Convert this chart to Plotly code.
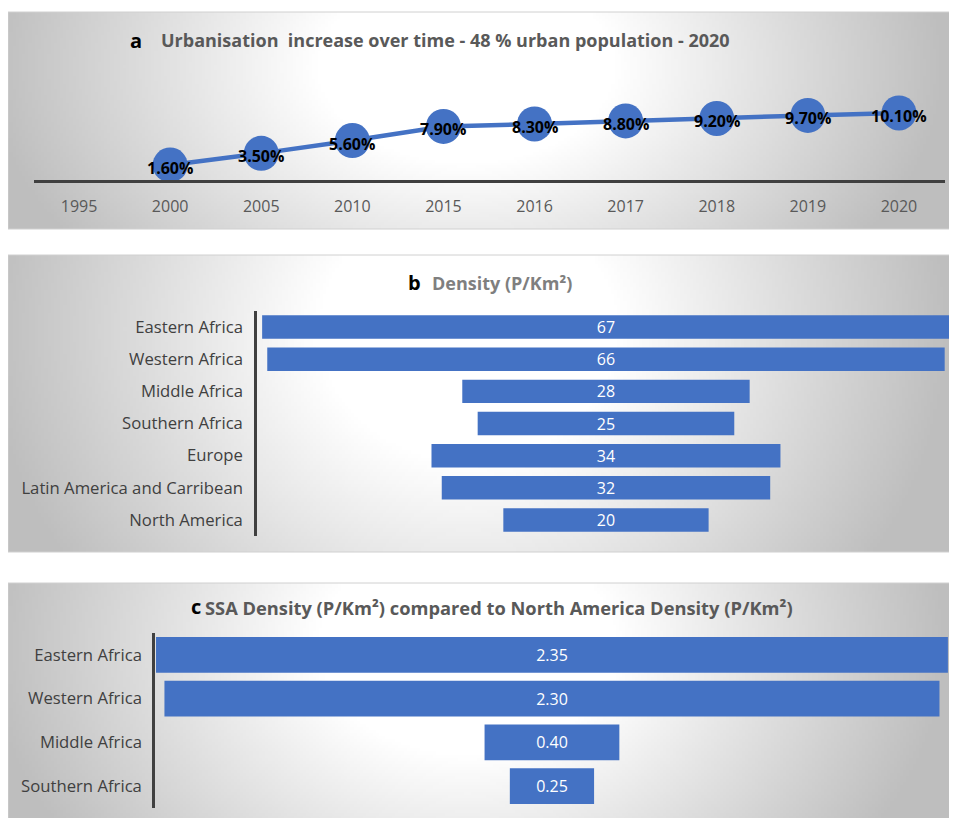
import base64, struct, zlib
import numpy as np
import plotly.graph_objects as go

# ---------------- data ----------------
years = ["1995", "2000", "2005", "2010", "2015", "2016", "2017", "2018", "2019", "2020"]
urban_pct = [None, 1.6, 3.5, 5.6, 7.9, 8.3, 8.8, 9.2, 9.7, 10.1]

density_regions = ["Eastern Africa", "Western Africa", "Middle Africa", "Southern Africa",
                   "Europe", "Latin America and Carribean", "North America"]
density_values = [67, 66, 28, 25, 34, 32, 20]

ssa_regions = ["Eastern Africa", "Western Africa", "Middle Africa", "Southern Africa"]
ssa_ratio = [2.35, 2.30, 0.40, 0.25]

OFF = 8  # page body margin
W, H = 957 - OFF, 818 - OFF
BLUE = "#4472C4"
FONT = "Open Sans"


def px_x(p):
    return (p - OFF) / W


def px_y(p):
    return 1 - (p - OFF) / H


# ---------- gradient background as PNG ----------
def png_uri(gray):
    h, w = gray.shape
    raw = b"".join(b"\x00" + row.tobytes() for row in gray.astype(np.uint8))

    def chunk(tag, data):
        c = struct.pack(">I", len(data)) + tag + data
        return c + struct.pack(">I", zlib.crc32(tag + data) & 0xFFFFFFFF)

    png = b"\x89PNG\r\n\x1a\n"
    png += chunk(b"IHDR", struct.pack(">IIBBBBB", w, h, 8, 0, 0, 0, 0))
    png += chunk(b"IDAT", zlib.compress(raw, 9))
    png += chunk(b"IEND", b"")
    return "data:image/png;base64," + base64.b64encode(png).decode()


def gradient(w=300, h=80, vy=0.35):
    xs = np.linspace(-1, 1, w)
    ys = np.linspace(-1, 1, h)
    X, Y = np.meshgrid(xs + 0.03, ys)
    r = np.sqrt(X ** 2 + (vy * (Y + 0.5)) ** 2)
    t = np.clip((r - 0.32) / 0.7, 0, 1)
    g = 255 - (255 - 190) * t
    return png_uri(g)


panels = [(8, 12, 953, 229), (8, 255, 957, 552), (8, 583, 955, 830)]

images = []
shapes = []
for (x0, y0, x1, y1) in panels:
    images.append(dict(source=gradient(), xref="paper", yref="paper",
                       x=px_x(x0), y=px_y(y0), sizex=px_x(x1) - px_x(x0),
                       sizey=px_y(y0) - px_y(y1), sizing="stretch",
                       xanchor="left", yanchor="top", layer="below"))
    shapes.append(dict(type="rect", xref="paper", yref="paper",
                       x0=px_x(x0), x1=px_x(x1), y0=px_y(y1), y1=px_y(y0),
                       line=dict(color="#d0d0d0", width=1), fillcolor="rgba(0,0,0,0)",
                       layer="below"))

fig = go.Figure()

# ---------- panel a ----------
fig.add_trace(go.Scatter(
    x=years, y=urban_pct, mode="lines+markers",
    line=dict(color=BLUE, width=4.5),
    marker=dict(color=BLUE, size=35),
    xaxis="x", yaxis="y", hoverinfo="skip", showlegend=False, cliponaxis=False))

point_labels = []
for i, v in enumerate(urban_pct):
    if v is None:
        continue
    point_labels.append(dict(text=f"<b>{v:.2f}%</b>", x=i, y=v, xref="x", yref="y",
                             showarrow=False, yshift=-3, xanchor="center", yanchor="middle",
                             font=dict(family=FONT, size=16, color="black")))

# ---------- panel b ----------
fig.add_trace(go.Funnel(
    y=density_regions, x=density_values,
    marker=dict(color=BLUE), connector=dict(visible=False),
    width=0.73, textinfo="value", textposition="inside",
    insidetextanchor="middle", constraintext="none",
    textfont=dict(family=FONT, size=16, color="white"),
    xaxis="x2", yaxis="y2", showlegend=False, hoverinfo="skip"))

# ---------- panel c ----------
fig.add_trace(go.Funnel(
    y=ssa_regions, x=ssa_ratio,
    text=[f"{v:.2f}" for v in ssa_ratio],
    marker=dict(color=BLUE), connector=dict(visible=False),
    width=0.82, textinfo="text", textposition="inside",
    insidetextanchor="middle", constraintext="none",
    textfont=dict(family=FONT, size=16, color="white"),
    xaxis="x3", yaxis="y3", showlegend=False, hoverinfo="skip"))

annotations = [
    dict(text="<b>a</b>", x=px_x(136), y=px_y(40), xanchor="center", yanchor="middle",
         font=dict(family=FONT, size=20, color="black")),
    dict(text="<b>Urbanisation\u00a0\u00a0increase over time - 48 % urban population - 2020</b>",
         x=px_x(159), y=px_y(40), xanchor="left", yanchor="middle",
         font=dict(family=FONT, size=18, color="#595959")),
    dict(text="<b>b</b>", x=px_x(414), y=px_y(282), xanchor="center", yanchor="middle",
         font=dict(family=FONT, size=20, color="black")),
    dict(text="<b>Density (P/Km²)</b>", x=px_x(430), y=px_y(283), xanchor="left", yanchor="middle",
         font=dict(family=FONT, size=18, color="#7f7f7f")),
    dict(text="<b>c</b>", x=px_x(196), y=px_y(606), xanchor="center", yanchor="middle",
         font=dict(family=FONT, size=20, color="black")),
    dict(text="<b>SSA Density (P/Km²) compared to North America Density (P/Km²)</b>",
         x=px_x(203), y=px_y(607), xanchor="left", yanchor="middle",
         font=dict(family=FONT, size=18.3, color="#595959")),
]
for a in annotations:
    a.update(xref="paper", yref="paper", showarrow=False)

fig.update_layout(
    width=W, height=H, margin=dict(l=0, r=0, t=0, b=0),
    paper_bgcolor="white", plot_bgcolor="rgba(0,0,0,0)",
    images=images, shapes=shapes, annotations=annotations + point_labels,
    font=dict(family=FONT),
    xaxis=dict(domain=[px_x(33.5), px_x(944.5)], type="category",
               categoryorder="array", categoryarray=years,
               range=[-0.5, 9.5], showline=True, linecolor="#404040", linewidth=2.5,
               showgrid=False, zeroline=False, ticks="", ticklabelstandoff=10,
               tickfont=dict(family=FONT, size=16, color="#595959"), fixedrange=True),
    yaxis=dict(domain=[px_y(180), px_y(60)], range=[-0.85, 18.75], visible=False,
               fixedrange=True),
    xaxis2=dict(domain=[px_x(257), 1.0], range=[-34, 34.2], visible=False, anchor="y2"),
    yaxis2=dict(domain=[px_y(536), px_y(311)], anchor="x2", type="category",
                categoryorder="array", categoryarray=density_regions, autorange="reversed",
                showline=True, linecolor="#404040", linewidth=2.5, showgrid=False,
                ticks="", ticklabelstandoff=8,
                tickfont=dict(family=FONT, size=16.7, color="#404040")),
    xaxis3=dict(domain=[px_x(155), 1.0], range=[-1.178, 1.202], visible=False, anchor="y3"),
    yaxis3=dict(domain=[px_y(808), px_y(633)], anchor="x3", type="category",
                categoryorder="array", categoryarray=ssa_regions, autorange="reversed",
                showline=True, linecolor="#404040", linewidth=2.5, showgrid=False,
                ticks="", ticklabelstandoff=7,
                tickfont=dict(family=FONT, size=16.7, color="#404040")),
)

fig.write_html("out.html")
